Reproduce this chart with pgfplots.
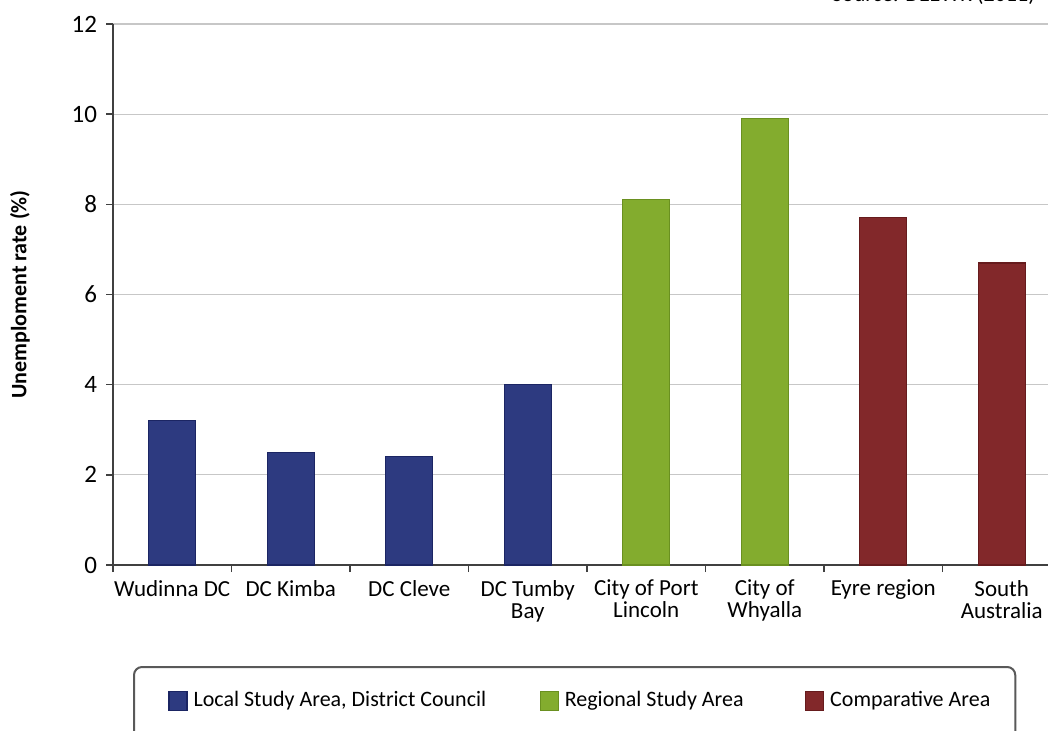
\documentclass[border=0pt]{standalone}
\usepackage{pgfplots}
\pgfplotsset{compat=1.18}
\usepackage{fontspec}
\setmainfont{Carlito}
\definecolor{lsaBlue}{HTML}{2D3A80}
\definecolor{lsaBlueEdge}{HTML}{1B2563}
\definecolor{rsaGreen}{HTML}{83AC2E}
\definecolor{rsaGreenEdge}{HTML}{6A9020}
\definecolor{caRed}{HTML}{82282A}
\definecolor{caRedEdge}{HTML}{661B1D}
\begin{document}
\begin{tikzpicture}
% 1 px of the reference = 0.5pt
\path[use as bounding box, clip] (0,0) rectangle (524pt,-365.5pt);
\node[anchor=base east, font=\fontsize{11}{12}\selectfont] at (521pt,-1pt) {Source: DEEWR (2011)};
\begin{axis}[
  at={(56.5pt,-282.5pt)}, anchor=south west,
  scale only axis, width=474pt, height=270.5pt,
  xmin=-0.5, xmax=7.5, ymin=0, ymax=12,
  ytick={0,2,...,12},
  xtick={-0.5,0.5,1.5,2.5,3.5,4.5,5.5,6.5,7.5},
  x tick label as interval,
  xticklabels={Wudinna DC, DC Kimba, DC Cleve, {DC Tumby\\Bay}, {City of Port\\Lincoln}, {City of\\Whyalla}, Eyre region, {South\\Australia}},
  xticklabel style={align=center, font=\fontsize{11.5}{11}\selectfont, yshift=-0.5pt},
  yticklabel style={font=\fontsize{12.5}{13}\selectfont, xshift=-1pt},
  /pgf/number format/assume math mode=true,
  axis x line*=bottom, axis y line*=left,
  axis line style={draw=black!75, line width=1pt},
  tick style={draw=black!75, line width=0.8pt},
  major tick length=3.5pt, tick align=outside,
  ymajorgrids, grid style={draw=black!22, line width=0.6pt},
  ylabel={\bfseries Unemploment rate (\%)},
  every axis y label/.style={at={(axis description cs:-0.0981,0.5)}, rotate=90, anchor=center, font=\fontsize{11}{12}\selectfont},
  ybar, bar width=23.5pt, bar shift=0pt,
  area legend,
  legend columns=3,
  legend cell align=left,
  legend image code/.code={\path[draw=none, fill=none] (0pt,0pt) -- (8pt,0pt); \draw[#1, sharp corners] (8pt,0pt) rectangle (17pt,9.5pt);},
  legend style={at={(axis description cs:0.0211,-0.1867)}, anchor=north west,
    draw=black!65, line width=1pt, rounded corners=4pt,
    inner xsep=9.5pt, inner ysep=10pt,
    font=\fontsize{11}{12}\selectfont,
    nodes={text depth=12pt, inner xsep=3pt},
    /tikz/column 2/.style={column sep=16pt},
    /tikz/column 4/.style={column sep=20pt}},
]
\addplot[fill=lsaBlue, draw=lsaBlueEdge, line width=0.6pt] coordinates {(0,3.2) (1,2.5) (2,2.4) (3,4.0)};
\addlegendentry{Local Study Area, District Council}
\addplot[fill=rsaGreen, draw=rsaGreenEdge, line width=0.6pt] coordinates {(4,8.1) (5,9.9)};
\addlegendentry{Regional Study Area}
\addplot[fill=caRed, draw=caRedEdge, line width=0.6pt] coordinates {(6,7.7) (7,6.7)};
\addlegendentry{Comparative Area}
\end{axis}
\end{tikzpicture}
\end{document}
